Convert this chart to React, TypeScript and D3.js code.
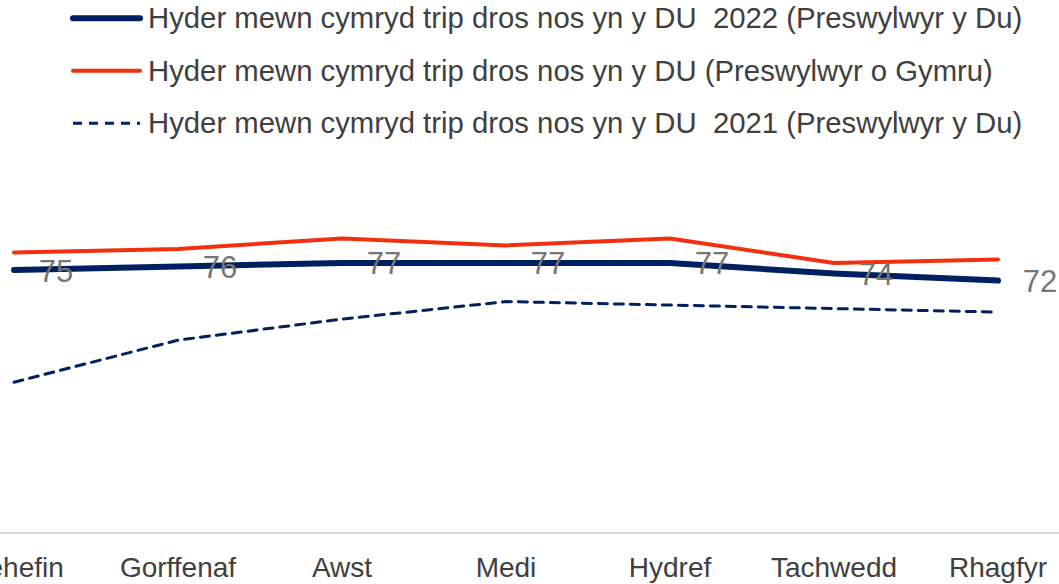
import React, { useEffect, useRef } from 'react'
import * as d3 from 'd3'

// Data
const months = ['Mehefin', 'Gorffenaf', 'Awst', 'Medi', 'Hydref', 'Tachwedd', 'Rhagfyr']
const uk2022 = [75, 76, 77, 77, 77, 74, 72]
const wales = [80, 81, 84, 82, 84, 77, 78]
const uk2021 = [43, 55, 61, 66, 65, 64, 63]
const legendLabels = [
    'Hyder mewn cymryd trip dros nos yn y DU  2022 (Preswylwyr y Du)',
    'Hyder mewn cymryd trip dros nos yn y DU (Preswylwyr o Gymru)',
    'Hyder mewn cymryd trip dros nos yn y DU  2021 (Preswylwyr y Du)'
]

export default function App() {
    const ref = useRef(null)

    useEffect(() => {
        var width = 1059
        var height = 584
        var font = 'Arial, "Liberation Sans", sans-serif'
        var navy = '#002060'
        var red = '#F2300F'

        var svg = d3.select(ref.current)
        svg.selectAll('*').remove()
        svg.attr('width', width).attr('height', height)

        // Scales
        var xScale = d3.scalePoint().domain(months).range([14, 998])
        var yScale = d3.scaleLinear().domain([0, 150]).range([533, 7])

        // Axis line
        svg.append('line')
            .attr('x1', 0)
            .attr('x2', width)
            .attr('y1', yScale(0))
            .attr('y2', yScale(0))
            .style('stroke', '#d9d9d9')
            .style('stroke-width', 2)

        // Axis labels
        svg.selectAll('.month')
            .data(months)
            .enter()
            .append('text')
            .attr('class', 'month')
            .text(d => d)
            .attr('x', d => xScale(d))
            .attr('y', 577)
            .attr('text-anchor', 'middle')
            .attr('font-family', font)
            .attr('font-size', '28px')
            .attr('fill', '#404040')

        var series = [
            { values: uk2021, color: navy, width: 3, dash: '9,7', curve: d3.curveMonotoneX },
            { values: uk2022, color: navy, width: 6, dash: null, curve: d3.curveLinear },
            { values: wales, color: red, width: 4, dash: null, curve: d3.curveLinear }
        ]

        series.forEach(s => {
            var line = d3.line()
                .x((d, i) => xScale(months[i]))
                .y(d => yScale(d))
                .curve(s.dash ? d3.curveLinear : s.curve)
            svg.append('path')
                .attr('d', line(s.values))
                .attr('fill', 'none')
                .attr('stroke', s.color)
                .attr('stroke-width', s.width)
                .attr('stroke-linecap', 'round')
                .attr('stroke-linejoin', 'round')
                .attr('stroke-dasharray', s.dash)
        })

        // Data labels
        svg.selectAll('.label')
            .data(uk2022)
            .enter()
            .append('text')
            .attr('class', 'label')
            .text(d => d)
            .attr('x', (d, i) => xScale(months[i]) + 42)
            .attr('y', d => yScale(d) + 11.5)
            .attr('text-anchor', 'middle')
            .attr('font-family', font)
            .attr('font-size', '31px')
            .attr('fill', '#767676')

        // Legend
        var legendStyles = [
            { color: navy, width: 6, dash: null },
            { color: red, width: 4, dash: null },
            { color: navy, width: 3, dash: '9,7' }
        ]
        legendLabels.forEach((label, i) => {
            var y = 18.3 + i * 52.5
            svg.append('line')
                .attr('x1', 73)
                .attr('x2', 140)
                .attr('y1', y)
                .attr('y2', y)
                .attr('stroke', legendStyles[i].color)
                .attr('stroke-width', legendStyles[i].width)
                .attr('stroke-linecap', legendStyles[i].dash ? 'butt' : 'round')
                .attr('stroke-dasharray', legendStyles[i].dash)
            svg.append('text')
                .text(label)
                .attr('x', 148)
                .attr('y', y + 9.8)
                .attr('font-family', font)
                .attr('font-size', '29.3px')
                .attr('fill', '#404040')
                .style('white-space', 'pre')
        })
    }, [])

    return (
        <div style={{ position: 'absolute', left: 0, top: 0 }}>
            <svg ref={ref} style={{ display: 'block' }}></svg>
        </div>
    )
}
